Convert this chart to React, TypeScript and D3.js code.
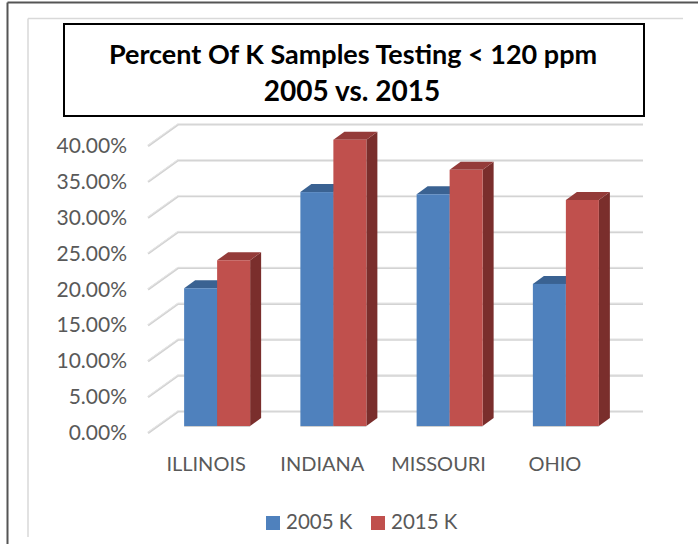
import React from "react";
import * as d3 from "d3";

const categories = ["ILLINOIS", "INDIANA", "MISSOURI", "OHIO"];
const seriesNames = ["2005 K", "2015 K"];
const values2005 = [0.192, 0.326, 0.323, 0.198];
const values2015 = [0.231, 0.399, 0.357, 0.315];
const yTicks = [0, 0.05, 0.1, 0.15, 0.2, 0.25, 0.3, 0.35, 0.4];
const titleLines = ["Percent Of K Samples Testing < 120 ppm", "2005 vs. 2015"];

const W = 698;
const H = 544;

export default function App() {
  const x = d3.scaleBand<string>().domain(categories).range([148, 613]).padding(0);
  const y = d3.scaleLinear().domain([0, 0.4]).range([433, 146]);
  const backDx = 30, backDy = -21.5;
  const barDx = 11, barDy = -7;
  const sideDx = 11, sideDy = -8;
  const sub = d3.scaleBand<string>().domain(seriesNames).range([-33, 33]);
  const front = ["#4F81BD", "#C0504D"];
  const tops = ["#3A6292", "#943B39"];
  const sides = ["#385D8A", "#7A2E2C"];
  const series = [values2005, values2015];
  const font = "Lato, 'Open Sans', sans-serif";

  return (
    <svg width={W} height={H} style={{ display: "block", position: "absolute", left: 0, top: 0 }}>
      <rect x={0} y={0} width={W} height={H} fill="#fff" />
      {/* outer frame */}
      <line x1={7.5} y1={2.5} x2={W} y2={2.5} stroke="#555" strokeWidth={2} />
      <line x1={7.5} y1={2.5} x2={7.5} y2={H} stroke="#555" strokeWidth={2} />
      {/* inner light frame */}
      <line x1={28} y1={18.5} x2={683} y2={18.5} stroke="#d9d9d9" strokeWidth={1.5} />
      <line x1={28} y1={18.5} x2={28} y2={537} stroke="#d9d9d9" strokeWidth={1.5} />
      {/* title box */}
      <rect x={64} y={24} width={580} height={92} fill="#fff" stroke="#000" strokeWidth={2} />
      <text x={353} y={64} textAnchor="middle" fontFamily={font} fontWeight="bold" fontSize={27} fill="#000">{titleLines[0]}</text>
      <text x={352} y={101} textAnchor="middle" fontFamily={font} fontWeight="bold" fontSize={28} fill="#000">{titleLines[1]}</text>
      {/* gridlines */}
      {yTicks.map((t) => (
        <g key={t}>
          <polyline
            points={`${148},${y(t)} ${148 + backDx},${y(t) + backDy} ${643},${y(t) + backDy}`}
            fill="none" stroke="#d3d3d3" strokeWidth={2.2} />
          <polyline
            points={`${148},${y(t) - 0.8} ${148 + backDx},${y(t) + backDy - 0.8} ${643},${y(t) + backDy - 0.8}`}
            fill="none" stroke="#ececec" strokeWidth={0.8} />
        </g>
      ))}
      {/* y labels */}
      {yTicks.map((t) => (
        <text key={t} x={127} y={y(t) + 7} textAnchor="end" fontFamily={font} fontSize={21} fill="#595959">
          {d3.format(".2%")(t)}
        </text>
      ))}
      {/* bars */}
      {categories.map((c, i) => {
        const cx = (x(c) as number) + x.bandwidth() / 2 + barDx;
        return (
          <g key={c}>
            {series.map((vals, s) => {
              const x0 = cx + (sub(seriesNames[s]) as number);
              const x1 = x0 + sub.bandwidth();
              const yb = y(0) + barDy;
              const yt = y(vals[i]) + barDy;
              return (
                <g key={s}>
                  <polygon points={`${x1},${yt} ${x1 + sideDx},${yt + sideDy} ${x1 + sideDx},${yb + sideDy} ${x1},${yb}`} fill={sides[s]} />
                  <polygon points={`${x0},${yt} ${x0 + sideDx},${yt + sideDy} ${x1 + sideDx},${yt + sideDy} ${x1},${yt}`} fill={tops[s]} />
                  <rect x={x0} y={yt} width={x1 - x0} height={yb - yt} fill={front[s]} />
                </g>
              );
            })}
            <line x1={cx - 33} y1={y(0) + barDy + 0.5} x2={cx + 33} y2={y(0) + barDy + 0.5} stroke="#cfcfcf" strokeWidth={1} />
          </g>
        );
      })}
      {/* category labels */}
      {categories.map((c) => (
        <text key={c} x={(x(c) as number) + x.bandwidth() / 2} y={471} textAnchor="middle" fontFamily={font} fontSize={20} fill="#595959">{c}</text>
      ))}
      {/* legend */}
      {seriesNames.map((n, s) => {
        const lx = s === 0 ? 266 : 371;
        return (
          <g key={n}>
            <rect x={lx} y={516} width={14} height={14} fill={front[s]} />
            <text x={lx + 20} y={529} fontFamily={font} fontSize={20.5} fill="#595959">{n}</text>
          </g>
        );
      })}
    </svg>
  );
}
